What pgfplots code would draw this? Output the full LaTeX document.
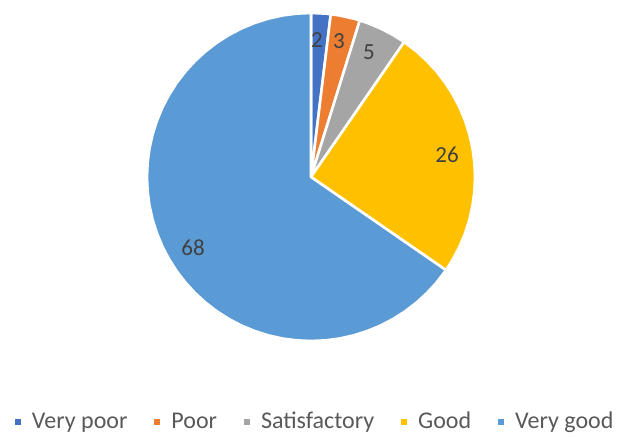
\documentclass[border=0pt]{standalone}
\usepackage{pgfplots}
\pgfplotsset{compat=1.18}
\usepackage{fontspec}
\setmainfont{Carlito}
\definecolor{c1}{HTML}{4472C4}
\definecolor{c2}{HTML}{ED7D31}
\definecolor{c3}{HTML}{A5A5A5}
\definecolor{c4}{HTML}{FFC000}
\definecolor{c5}{HTML}{5B9BD5}
\definecolor{lbl}{HTML}{404040}
\definecolor{leg}{HTML}{595959}
\begin{document}
\begin{tikzpicture}
\begin{axis}[
  scale only axis, width=309.5pt, height=218.5pt,
  xmin=-311, xmax=308, ymin=-260, ymax=177,
  hide axis, clip=false,
  every axis plot/.append style={data cs=polar, draw=white, line width=1.3pt, line join=round},
  legend style={at={(axis cs:-296,-245)}, anchor=west, draw=none, fill=none,
    inner sep=0pt, outer sep=0pt,
    font=\fontsize{12}{14}\selectfont\color{leg},
    /tikz/every even column/.append style={column sep=11.5pt}},
  legend columns=-1,
  legend image code/.code={\fill[#1, draw=none] (0pt,-1.5pt) rectangle (3pt,1.5pt);
    \path[draw=none, fill=none] (0pt,0pt) -- (6.5pt,0pt);},
]
% values: 2, 3, 5, 26, 68 (total 104), clockwise from the top
\addplot[fill=c1] coordinates {(0,0) (90,164) (85,164) (83.077,164)} -- cycle;
\addlegendentry{Very poor}
\addplot[fill=c2] coordinates {(0,0) (83.077,164) (80,164) (75,164) (72.692,164)} -- cycle;
\addlegendentry{Poor}
\addplot[fill=c3] coordinates {(0,0) (72.692,164) (70,164) (65,164) (60,164) (55.385,164)} -- cycle;
\addlegendentry{Satisfactory}
\addplot[fill=c4] coordinates {(0,0) (55.385,164) (50,164) (45,164) (40,164) (35,164) (30,164) (25,164) (20,164) (15,164) (10,164) (5,164) (0,164) (-5,164) (-10,164) (-15,164) (-20,164) (-25,164) (-30,164) (-34.615,164)} -- cycle;
\addlegendentry{Good}
\addplot[fill=c5] coordinates {(0,0) (-34.615,164) (-40,164) (-45,164) (-50,164) (-55,164) (-60,164) (-65,164) (-70,164) (-75,164) (-80,164) (-85,164) (-90,164) (-95,164) (-100,164) (-105,164) (-110,164) (-115,164) (-120,164) (-125,164) (-130,164) (-135,164) (-140,164) (-145,164) (-150,164) (-155,164) (-160,164) (-165,164) (-170,164) (-175,164) (-180,164) (-185,164) (-190,164) (-195,164) (-200,164) (-205,164) (-210,164) (-215,164) (-220,164) (-225,164) (-230,164) (-235,164) (-240,164) (-245,164) (-250,164) (-255,164) (-260,164) (-265,164) (-270,164)} -- cycle;
\addlegendentry{Very good}
\begin{scope}[font=\fontsize{11.5}{14}\selectfont, text=lbl]
\node at (axis cs:6,137) {2};
\node at (axis cs:28,136) {3};
\node at (axis cs:58,125) {5};
\node at (axis cs:136,22) {26};
\node at (axis cs:-118,-71) {68};
\end{scope}
\path (rel axis cs:0,0) rectangle (rel axis cs:1,1);
\end{axis}
\end{tikzpicture}
\end{document}
